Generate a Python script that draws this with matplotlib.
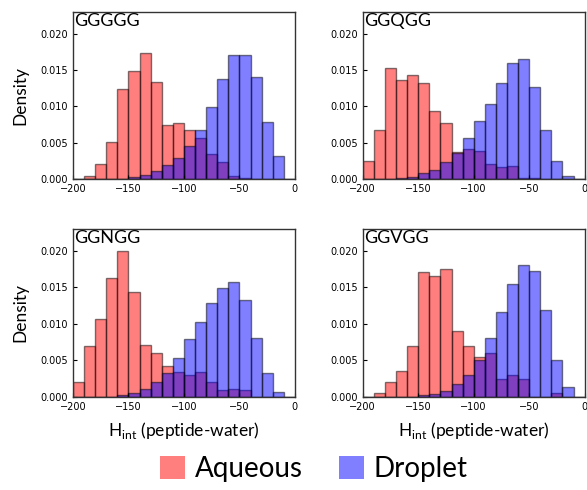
import matplotlib
matplotlib.use("Agg")
import matplotlib.pyplot as plt
import numpy as np
from matplotlib.patches import Patch

# bin left edges, width 10, from -200 to 0
edges = np.arange(-200, 0, 10)

names = ["GGGGG", "GGQGG", "GGNGG", "GGVGG"]

# densities per bin (left edge -200 ... -10)
aq_ggggg = [0, 0.0004, 0.0021, 0.0051, 0.0124, 0.0148, 0.0174, 0.0134, 0.0074, 0.0077,
            0.0068, 0.0057, 0.0034, 0.0023, 0.0004, 0.0002, 0, 0, 0, 0]
dr_ggggg = [0, 0, 0, 0, 0, 0.0003, 0.0005, 0.0011, 0.0019, 0.0029,
            0.0046, 0.0068, 0.0099, 0.0137, 0.0171, 0.0171, 0.0141, 0.0079, 0.0032, 0]

aq_ggqgg = [0.0025, 0.0067, 0.0153, 0.0136, 0.0143, 0.0132, 0.0094, 0.0077, 0.0037, 0.0041,
            0.0039, 0.0020, 0.0017, 0.0018, 0.0002, 0.0002, 0, 0, 0, 0]
dr_ggqgg = [0, 0, 0, 0.0001, 0.0003, 0.0008, 0.0013, 0.0023, 0.0036, 0.0057,
            0.0080, 0.0103, 0.0132, 0.0160, 0.0165, 0.0127, 0.0067, 0.0025, 0.0004, 0]

aq_ggngg = [0.0020, 0.0070, 0.0107, 0.0163, 0.0200, 0.0143, 0.0071, 0.0060, 0.0042, 0.0034,
            0.0030, 0.0034, 0.0021, 0.0010, 0.0011, 0.0009, 0, 0, 0, 0]
dr_ggngg = [0, 0, 0, 0, 0.0002, 0.0005, 0.0011, 0.0020, 0.0033, 0.0053,
            0.0079, 0.0102, 0.0128, 0.0149, 0.0157, 0.0133, 0.0081, 0.0033, 0.0007, 0]

aq_ggvgg = [0, 0.0005, 0.0020, 0.0035, 0.0069, 0.0171, 0.0165, 0.0175, 0.0090, 0.0070,
            0.0054, 0.0060, 0.0024, 0.0030, 0.0024, 0, 0, 0.0005, 0, 0]
dr_ggvgg = [0, 0, 0, 0, 0, 0.0002, 0.0004, 0.0008, 0.0017, 0.0030,
            0.0051, 0.0081, 0.0116, 0.0154, 0.0180, 0.0172, 0.0119, 0.0051, 0.0013, 0]

aqueous = [aq_ggggg, aq_ggqgg, aq_ggngg, aq_ggvgg]
droplet = [dr_ggggg, dr_ggqgg, dr_ggngg, dr_ggvgg]

lab_font = "Lato"

fig = plt.figure(figsize=(5.87, 4.9), dpi=100)
rects = [[0.1244, 0.6347, 0.378, 0.341],
         [0.618, 0.6347, 0.378, 0.341],
         [0.1244, 0.190, 0.378, 0.343],
         [0.618, 0.190, 0.378, 0.343]]

for i in range(4):
    ax = fig.add_axes(rects[i])
    ax.bar(edges, aqueous[i], width=10, align="edge", color="red", alpha=0.5,
           edgecolor="black", linewidth=1)
    ax.bar(edges, droplet[i], width=10, align="edge", color="blue", alpha=0.5,
           edgecolor="black", linewidth=1)
    ax.set_xlim(-200, 0)
    ax.set_ylim(0, 0.023)
    ax.set_xticks([-200, -150, -100, -50, 0])
    ax.set_yticks([0, 0.005, 0.010, 0.015, 0.020])
    ax.set_yticklabels(["0.000", "0.005", "0.010", "0.015", "0.020"])
    ax.tick_params(direction="in", labelsize=7, length=3, width=0.8)
    for s in ax.spines.values():
        s.set_color("#333333")
        s.set_linewidth(1)
    ax.text(0.005, 0.995, names[i], transform=ax.transAxes, ha="left", va="top",
            fontsize=13, family=lab_font)
    if i % 2 == 0:
        ax.set_ylabel("Density", fontsize=12.5, family=lab_font, labelpad=9)
    if i >= 2:
        ax.set_xlabel("H$_{\\mathregular{int}}$ (peptide-water)", fontsize=12.5,
                      family=lab_font, labelpad=6)

handles = [Patch(facecolor="red", alpha=0.5, label="Aqueous"),
           Patch(facecolor="blue", alpha=0.5, label="Droplet")]
fig.legend(handles=handles, loc="center", bbox_to_anchor=(0.535, 0.043), ncol=2,
           frameon=False, prop={"family": lab_font, "size": 20},
           handlelength=0.9, handleheight=0.9, handletextpad=0.35, columnspacing=1.3)

fig.savefig("out.png", dpi=100)
